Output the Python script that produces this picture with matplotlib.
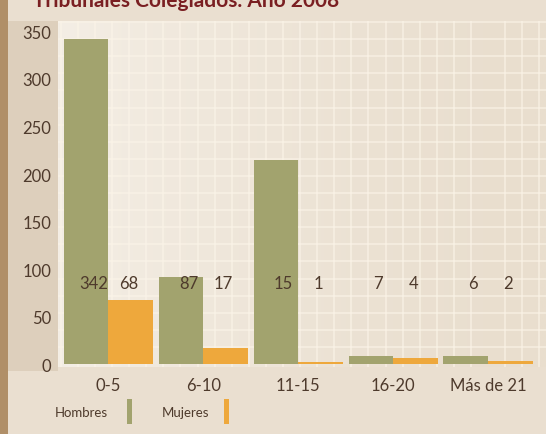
import matplotlib.pyplot as plt
from matplotlib.patches import Rectangle
import numpy as np

# data
categories = ['0-5', '6-10', '11-15', '16-20', 'Más de 21']
hombres = [342, 92, 215, 9, 9]
mujeres = [68, 17, 2, 6, 3]
# printed numbers inside the chart
hombres_labels = ['342', '87', '15', '7', '6']
mujeres_labels = ['68', '17', '1', '4', '2']
yticks = [0, 50, 100, 150, 200, 250, 300, 350]

GREEN = '#a2a36e'
ORANGE = '#eea83c'
TEXT = '#4e3a2c'
W, H = 546, 435

plt.rcParams['font.family'] = ['Lato', 'DejaVu Sans']

fig = plt.figure(figsize=(W / 100, H / 100), dpi=100)
fig.patch.set_facecolor('#eadfd0')

# brown strip on the left and darker band behind the y labels
fig.patches.append(Rectangle((0, 0), 8 / W, 1, transform=fig.transFigure,
                             facecolor='#b08f68', edgecolor='none', zorder=-2))
fig.patches.append(Rectangle((8 / W, (H - 372) / H), 50 / W, 350 / H,
                             transform=fig.transFigure, facecolor='#ddcfbc',
                             edgecolor='none', zorder=-2))

ax = fig.add_axes([58 / W, (H - 368) / H, (W - 58) / W, 346 / H])
ax.set_facecolor('#ece2d3')
ax.set_xlim(-0.53, 4.61)
ax.set_ylim(-3, 361)

# soft light area on the left side of the plot
grad = np.linspace(1, 0, 200).reshape(1, -1) ** 1.5
ax.imshow(grad, extent=(-0.53, 4.61, -3, 361), aspect='auto', cmap='Greys_r',
          alpha=None, zorder=0, vmin=0, vmax=1)
ax.images[0].set_cmap(plt.matplotlib.colors.LinearSegmentedColormap.from_list(
    'bg', ['#e9dece', '#f4eee5']))

x = np.arange(len(categories))
bw = 0.47
ax.bar(x - bw / 2, hombres, width=bw, color=GREEN, zorder=3)
ax.bar(x + bw / 2, mujeres, width=bw, color=ORANGE, zorder=3)

for i in range(len(categories)):
    ax.text(x[i] - bw / 2 + 0.08, 85, hombres_labels[i], ha='center', va='center',
            fontsize=12, color=TEXT, zorder=4)
    ax.text(x[i] + bw / 2 - 0.02, 85, mujeres_labels[i], ha='center', va='center',
            fontsize=12, color=TEXT, zorder=4)

ax.set_yticks(yticks)
ax.set_xticks(x)
ax.set_xticklabels(categories)
ax.tick_params(length=0, labelsize=12, labelcolor=TEXT)
ax.tick_params(axis='y', pad=5)
ax.tick_params(axis='x', pad=7)

# decorative light grid
ax.set_xticks(np.arange(-0.5, 4.7, 0.18), minor=True)
ax.set_yticks(np.arange(0, 361, 18), minor=True)
ax.grid(which='minor', color='#fbf4e8', linewidth=1.1, alpha=0.75, zorder=1)
ax.tick_params(which='minor', length=0)
for s in ax.spines.values():
    s.set_visible(False)

# legend drawn by hand
fig.text(55 / W, 1 - 413 / H, 'Hombres', fontsize=9.5, color=TEXT, va='center')
fig.patches.append(Rectangle((127 / W, 1 - 425 / H), 5 / W, 25 / H,
                             transform=fig.transFigure, facecolor=GREEN, edgecolor='none'))
fig.text(162 / W, 1 - 413 / H, 'Mujeres', fontsize=9.5, color=TEXT, va='center')
fig.patches.append(Rectangle((224 / W, 1 - 425 / H), 5 / W, 25 / H,
                             transform=fig.transFigure, facecolor=ORANGE, edgecolor='none'))

# title, cut off at the top edge as in the original
fig.text(33 / W, 1 - 1 / H, 'Tribunales Colegiados. Año 2008', fontsize=15,
         fontweight='bold', color='#7a1f22', va='center', ha='left')

fig.savefig('out.png', dpi=100, facecolor=fig.get_facecolor())
